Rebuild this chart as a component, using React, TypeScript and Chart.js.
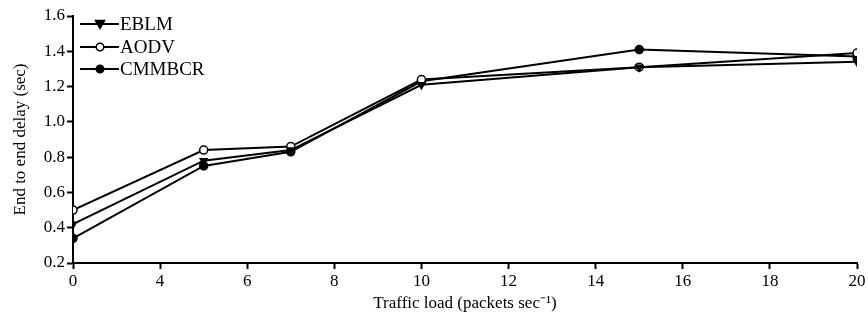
import React, { useEffect, useRef } from "react";
import { Chart, registerables } from "chart.js";

Chart.register(...registerables);

const loads = [0, 5, 7, 10, 15, 20];
const eblm = [0.42, 0.78, 0.84, 1.21, 1.31, 1.34];
const aodv = [0.5, 0.84, 0.86, 1.24, 1.31, 1.39];
const cmmbcr = [0.34, 0.75, 0.83, 1.23, 1.41, 1.37];
const xTickLabels = [0, 4, 6, 8, 10, 12, 14, 16, 18, 20];
const yTicks = [0.2, 0.4, 0.6, 0.8, 1.0, 1.2, 1.4, 1.6];

// the original axis spaces its labels evenly (0,4,6,...,20), so map value -> tick slot
function slot(v: number): number {
  for (let i = 0; i < xTickLabels.length - 1; i++) {
    const a = xTickLabels[i], b = xTickLabels[i + 1];
    if (v >= a && v <= b) return i + (v - a) / (b - a);
  }
  return xTickLabels.length - 1;
}

const FONT = "'Liberation Serif', 'Times New Roman', serif";

const seriesDefs = [
  { label: "EBLM", data: eblm, style: "triangle", rot: 180, fill: "#000" },
  { label: "AODV", data: aodv, style: "circle", rot: 0, fill: "#fff" },
  { label: "CMMBCR", data: cmmbcr, style: "circle", rot: 0, fill: "#000" },
];

const legendPlugin = {
  id: "customLegend",
  afterDraw(chart: any) {
    const ctx = chart.ctx;
    const left = chart.chartArea.left;
    const rows = [24, 47, 69];
    ctx.save();
    seriesDefs.forEach((s, i) => {
      const y = rows[i];
      ctx.strokeStyle = "#000";
      ctx.lineWidth = 2;
      ctx.beginPath();
      ctx.moveTo(left + 7, y);
      ctx.lineTo(left + 46, y);
      ctx.stroke();
      ctx.fillStyle = s.fill;
      ctx.lineWidth = 1.5;
      (Chart as any).helpers
        ? null
        : null;
      // draw marker
      const cx = left + 27;
      if (s.style === "triangle") {
        ctx.beginPath();
        ctx.moveTo(cx - 4.5, y - 3.5);
        ctx.lineTo(cx + 4.5, y - 3.5);
        ctx.lineTo(cx, y + 4.5);
        ctx.closePath();
        ctx.fill();
        ctx.stroke();
      } else {
        ctx.beginPath();
        ctx.arc(cx, y, 3.8, 0, Math.PI * 2);
        ctx.fill();
        ctx.stroke();
      }
      ctx.fillStyle = "#000";
      ctx.font = `19px ${FONT}`;
      ctx.textBaseline = "middle";
      ctx.textAlign = "left";
      ctx.fillText(s.label, left + 47, y + 1);
    });
    ctx.restore();
  },
};

export default function App() {
  const ref = useRef<HTMLCanvasElement | null>(null);
  useEffect(() => {
    if (!ref.current) return;
    const chart = new Chart(ref.current, {
      type: "line",
      data: {
        datasets: seriesDefs.map((s) => ({
          label: s.label,
          data: loads.map((x, i) => ({ x: slot(x), y: s.data[i] })),
          borderColor: "#000",
          borderWidth: 2,
          pointStyle: s.style as any,
          rotation: s.rot,
          pointRadius: 4,
          pointBackgroundColor: s.fill,
          pointBorderColor: "#000",
          pointBorderWidth: 1.5,
          tension: 0,
        })),
      },
      options: {
        animation: false,
        responsive: false,
        layout: { padding: { top: 16, right: 11, left: 0, bottom: 0 } },
        plugins: { legend: { display: false }, tooltip: { enabled: false } },
        scales: {
          x: {
            type: "linear",
            min: 0,
            max: xTickLabels.length - 1,
            afterFit: (s: any) => { s.height = 63; },
            afterBuildTicks: (s: any) => {
              s.ticks = xTickLabels.map((_, i) => ({ value: i }));
            },
            ticks: {
              callback: (v: any) => String(xTickLabels[Math.round(Number(v))]),
              color: "#000",
              font: { family: FONT, size: 17 },
              padding: 2,
              maxRotation: 0,
              autoSkip: false,
            },
            grid: { drawOnChartArea: false, tickLength: 6, tickColor: "#000", tickWidth: 2 },
            border: { color: "#000", width: 2 },
            title: {
              display: true,
              text: "Traffic load (packets sec⁻¹)",
              color: "#000",
              font: { family: FONT, size: 17 },
              padding: { top: 0, bottom: 12 },
            },
          },
          y: {
            type: "linear",
            min: 0.2,
            max: 1.6,
            afterFit: (s: any) => { s.width = 73; },
            afterBuildTicks: (s: any) => {
              s.ticks = yTicks.map((v) => ({ value: v }));
            },
            ticks: {
              callback: (v: any) => Number(v).toFixed(1),
              color: "#000",
              font: { family: FONT, size: 17 },
              padding: 2,
            },
            grid: { drawOnChartArea: false, tickLength: 6, tickColor: "#000", tickWidth: 2 },
            border: { color: "#000", width: 2 },
            title: {
              display: true,
              text: "End to end delay (sec)",
              color: "#000",
              font: { family: FONT, size: 17 },
              padding: { top: 10, bottom: 0 },
            },
          },
        },
      },
      plugins: [legendPlugin],
    });
    return () => chart.destroy();
  }, []);
  return (
    <div style={{ position: "fixed", left: 0, top: 0, width: 868, height: 326, background: "#fff" }}>
      <canvas ref={ref} width={868} height={326} style={{ display: "block" }} />
    </div>
  );
}
